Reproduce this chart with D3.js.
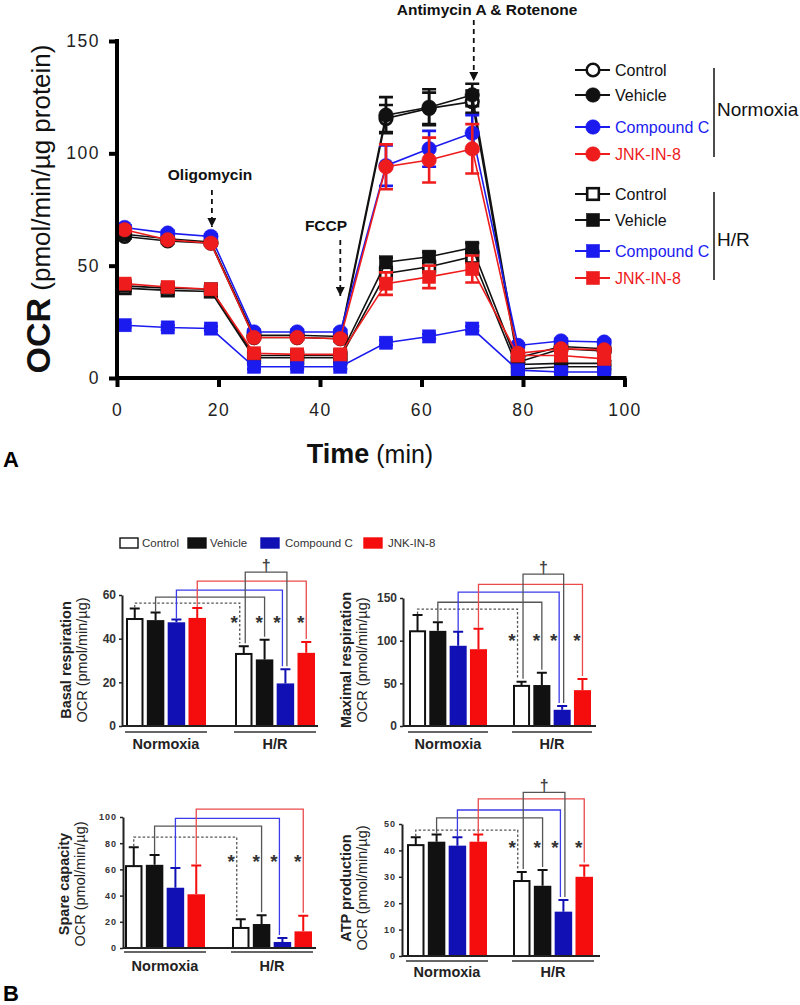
<!DOCTYPE html>
<html><head><meta charset="utf-8">
<script src="https://cdn.jsdelivr.net/npm/d3@7"></script>
<style>body{margin:0;background:#fff}svg{display:block;font-family:"Liberation Sans",Arial,sans-serif}</style>
</head><body><svg id="c" width="800" height="1005"></svg>
<script>
// ---------- Panel A data ----------
const times = [1.5,10,18.5,27,35.5,44,53,61.5,70,79,87.5,96];
const norControl = [63,61,60,18,18,17.5,115.5,120,123,7,13,12];
const norVehicle = [64,62,60.5,19,19,18.5,117,120.5,126,9,14,13];
const norCompC   = [67,64.5,63,20.5,20.5,20.5,94.5,102,109,14.5,16.5,16];
const norJNK     = [66,61.5,60,18,18,17.5,94,97,102,11,13,12.5];
const hrControl  = [40,39,38.5,9,9,9,46.5,49.5,54,4,5,5];
const hrVehicle  = [41,40,39.5,10,10,10,51.5,54,58,6,6.5,6.5];
const hrCompC    = [23.5,22.5,22,5,5,5,15.7,18.5,22,3.5,2.7,2.7];
const hrJNK      = [42,40.5,39.5,11,10.5,10.5,42,45,48.5,10,10,8.5];
const norControlErr = [1,1,1,1,1,1,6,7,5,1,1,1];
const norVehicleErr = [1,1,1,1,1,1,8,8,5,1,1,1];
const norCompCErr   = [1,1,1,1,1,1,9,8,8,1,1,1];
const norJNKErr     = [1,1,1,1,1,1,10,10,11,1,1,1];
const hrControlErr  = [1,1,1,1,1,1,2,2,2,1,1,1];
const hrVehicleErr  = [1,1,1,1,1,1,2,2,2,1,1,1];
const hrCompCErr    = [1,1,1,1,1,1,1,1,1,1,1,1];
const hrJNKErr      = [1,1,1,1,1,1,5,5,6,1,1,1];
const xTicksA = [0,20,40,60,80,100];
const yTicksA = [0,50,100,150];
const injTimes = [18.7,44,70.3];
const injLabels = ["Oligomycin","FCCP","Antimycin A & Rotenone"];

// ---------- Panel B data ----------
const groups = ["Normoxia","H/R"];
const treatments = ["Control","Vehicle","Compound C","JNK-IN-8"];
const basalMean = [49,48.5,47.5,49.5, 33,30.5,19.5,33.5];
const basalErr  = [4.8,3.5,1.3,4.5, 3.5,9,6.5,5];
const maxMean   = [111,111.5,94,90, 47,48,19,42];
const maxErr    = [19,10,16.4,24, 4.9,14.4,4.4,13];
const spareMean = [62.5,63.5,46,41, 15.3,18.3,4.6,12.7];
const spareErr  = [14.5,7.5,15,22, 6.7,6.7,3,12];
const atpMean   = [42,43.3,41.8,43.3, 28.4,26.6,16.8,30];
const atpErr    = [3,2.7,3.2,2.7, 3.4,6,4.4,4.3];
const basalTicks = [0,20,40,60];
const maxTicks = [0,50,100,150];
const spareTicks = [0,20,40,60,80,100];
const atpTicks = [0,10,20,30,40,50];

const svg = d3.select("#c");
const BLK="#111", BLU="#1b1bf0", RED="#ee1c1c";

// ================= Panel A =================
const xA = d3.scaleLinear().domain([0,100]).range([117,624.5]);
const yA = d3.scaleLinear().domain([0,150]).range([378,41]);

const seriesA = [
 {label:"Control", vals:norControl, err:norControlErr, color:BLK, shape:"circle", open:true},
 {label:"Vehicle", vals:norVehicle, err:norVehicleErr, color:BLK, shape:"circle", open:false},
 {label:"Compound C", vals:norCompC, err:norCompCErr, color:BLU, shape:"circle", open:false},
 {label:"JNK-IN-8", vals:norJNK, err:norJNKErr, color:RED, shape:"circle", open:false},
 {label:"Control", vals:hrControl, err:hrControlErr, color:BLK, shape:"square", open:true},
 {label:"Vehicle", vals:hrVehicle, err:hrVehicleErr, color:BLK, shape:"square", open:false},
 {label:"Compound C", vals:hrCompC, err:hrCompCErr, color:BLU, shape:"square", open:false},
 {label:"JNK-IN-8", vals:hrJNK, err:hrJNKErr, color:RED, shape:"square", open:false}
];

function marker(g,x,y,s){
  if(s.shape==="circle"){
    g.append("circle").attr("cx",x).attr("cy",y).attr("r",s.open?6.3:7.3)
     .attr("fill",s.open?"#fff":s.color).attr("stroke",s.color).attr("stroke-width",s.open?2.6:0.5);
  } else {
    const h = s.open?5.8:6.6;
    g.append("rect").attr("x",x-h).attr("y",y-h).attr("width",2*h).attr("height",2*h)
     .attr("fill",s.open?"#fff":s.color).attr("stroke",s.color).attr("stroke-width",s.open?2.6:0.5);
  }
}

const lineA = d3.line().x((d,i)=>xA(times[i])).y(d=>yA(d));
const gA = svg.append("g");
seriesA.forEach(s=>{
  const g = gA.append("g");
  g.append("path").attr("d",lineA(s.vals)).attr("fill","none").attr("stroke",s.color).attr("stroke-width",1.6);
  s.vals.forEach((v,i)=>{
    const e=s.err[i], x=xA(times[i]);
    g.append("path").attr("d",`M${x},${yA(v-e)}V${yA(v+e)}M${x-7},${yA(v+e)}H${x+7}M${x-7},${yA(v-e)}H${x+7}`)
     .attr("stroke",s.color).attr("stroke-width",2.6).attr("fill","none");
  });
  s.vals.forEach((v,i)=>marker(g,xA(times[i]),yA(v),s));
});

// axes A
const axA = gA.append("g").attr("transform","translate(0,378)")
  .call(d3.axisBottom(xA).tickValues(xTicksA).tickSize(9).tickSizeOuter(0).tickPadding(17));
const ayA = gA.append("g").attr("transform","translate(117,0)")
  .call(d3.axisLeft(yA).tickValues(yTicksA).tickSize(8).tickSizeOuter(0).tickPadding(9));
[axA,ayA].forEach(a=>{
  a.select(".domain").attr("stroke","#000").attr("stroke-width",4);
  a.selectAll(".tick line").attr("stroke","#000").attr("stroke-width",4);
  a.selectAll("text").attr("font-size",17.5).attr("fill","#222").attr("letter-spacing",1.5)
   .attr("font-family","'Liberation Sans',Arial,sans-serif");
});
axA.select(".domain").attr("d","M115,0H626.5");
ayA.select(".domain").attr("d","M0,380V39");

// axis titles
const yt = gA.append("text").attr("transform","translate(50,209) rotate(-90)").attr("text-anchor","middle").attr("fill","#111");
yt.append("tspan").attr("font-weight","bold").attr("font-size",34).text("OCR");
yt.append("tspan").attr("font-size",26).text(" (pmol/min/\u00b5g protein)");
const xt = gA.append("text").attr("x",370).attr("y",463).attr("text-anchor","middle").attr("fill","#111");
xt.append("tspan").attr("font-weight","bold").attr("font-size",27).text("Time");
xt.append("tspan").attr("font-size",25).text(" (min)");
gA.append("text").attr("x",3).attr("y",467).attr("font-weight","bold").attr("font-size",22).text("A");

// injection arrows
svg.append("defs").append("marker").attr("id","ah").attr("viewBox","0 0 10 10").attr("refX",10).attr("refY",5)
  .attr("markerWidth",5).attr("markerHeight",5).attr("orient","auto-start-reverse").attr("markerUnits","strokeWidth")
  .append("path").attr("d","M0,0L10,5L0,10Z").attr("fill","#111");
const injPos = [{y1:190,y2:227,lx:210,ly:180},{y1:240,y2:296,lx:326,ly:231},{y1:20,y2:81,lx:487,ly:15}];
injTimes.forEach((t,i)=>{
  const p=injPos[i], x=xA(t);
  gA.append("line").attr("x1",x).attr("x2",x).attr("y1",p.y1).attr("y2",p.y2).attr("stroke","#111")
    .attr("stroke-width",1.8).attr("stroke-dasharray","5,4").attr("marker-end","url(#ah)");
  gA.append("text").attr("x",p.lx).attr("y",p.ly).attr("text-anchor","middle").attr("font-weight","bold")
    .attr("font-size",15.5).attr("fill","#111").text(injLabels[i]);
});

// legend A
const legRows = [70,95,127,154,194,220,251,278];
seriesA.forEach((s,i)=>{
  const y=legRows[i];
  gA.append("line").attr("x1",575).attr("x2",610).attr("y1",y).attr("y2",y).attr("stroke",s.color).attr("stroke-width",1.8);
  marker(gA,593,y,s);
  gA.append("text").attr("x",615).attr("y",y+6).attr("font-size",16).attr("fill",s.color===BLK?"#111":s.color).text(s.label);
});
[[68,157,"Normoxia",116],[192,280,"H/R",246]].forEach(b=>{
  gA.append("line").attr("x1",714).attr("x2",714).attr("y1",b[0]).attr("y2",b[1]).attr("stroke","#111").attr("stroke-width",1.5);
  gA.append("text").attr("x",717).attr("y",b[3]).attr("font-size",19).attr("fill","#111").text(b[2]);
});

// ================= Panel B =================
const barFill = ["#fff","#111","#1010b4","#f50d0d"];
const barStroke = ["#111","#111","#1010b4","#f50d0d"];
const brCol = ["#555","#555","#3b3be8","#ea4a4a"];

// legend B
const legB = [{x:120,tx:142},{x:188,tx:210},{x:261,tx:285},{x:364,tx:388}];
treatments.forEach((t,i)=>{
  svg.append("rect").attr("x",legB[i].x).attr("y",538).attr("width",18).attr("height",10)
    .attr("fill",barFill[i]).attr("stroke",barStroke[i]).attr("stroke-width",1.4);
  svg.append("text").attr("x",legB[i].tx).attr("y",547).attr("font-size",11.5).attr("fill","#333").text(t);
});

function barChart(c){
  const g = svg.append("g");
  const y = d3.scaleLinear().domain([0,c.max]).range([c.y0,c.yTop]);
  const xg = d3.scaleBand().domain(groups).range([c.gStart,c.gStart+2*c.gw+c.gap]).paddingInner(c.gap/(c.gw+c.gap));
  const xb = d3.scaleBand().domain(treatments).range([0,c.gw]).paddingInner(0.16);
  const bx = i=>xg(groups[Math.floor(i/4)])+xb(treatments[i%4]);
  const bc = i=>bx(i)+xb.bandwidth()/2;
  const cap = i=>y(c.mean[i]+c.err[i]);
  // error bars
  c.mean.forEach((m,i)=>{
    const x=bc(i);
    g.append("path").attr("d",`M${x},${y(m)}V${cap(i)}M${x-5},${cap(i)}H${x+5}`)
     .attr("stroke",barStroke[i%4]).attr("stroke-width",2).attr("fill","none");
  });
  // bars
  g.selectAll("rect.bar").data(c.mean).join("rect").attr("class","bar")
   .attr("x",(d,i)=>bx(i)+(i%4===0?1:0)).attr("y",d=>y(d))
   .attr("width",(d,i)=>xb.bandwidth()-(i%4===0?2:0)).attr("height",d=>c.y0-y(d))
   .attr("fill",(d,i)=>barFill[i%4]).attr("stroke",(d,i)=>i%4===0?"#111":"none").attr("stroke-width",2);
  // axes
  const ay = g.append("g").attr("transform",`translate(${c.axis},0)`)
    .call(d3.axisLeft(y).tickValues(c.ticks).tickSize(3).tickSizeOuter(0).tickPadding(3));
  ay.select(".domain").attr("stroke","#222").attr("stroke-width",2);
  ay.selectAll(".tick line").attr("stroke","#222").attr("stroke-width",1.5);
  ay.selectAll("text").attr("font-size",c.tf).attr("font-weight","bold").attr("fill","#333")
    .attr("letter-spacing",c.tf<11?1:0).attr("font-family","'Liberation Sans',Arial,sans-serif");
  g.append("line").attr("x1",c.axis).attr("x2",c.xEnd).attr("y1",c.y0).attr("y2",c.y0).attr("stroke","#222").attr("stroke-width",2);
  // group underlines and labels
  groups.forEach(gr=>{
    const x0=xg(gr)-1, x1=xg(gr)+c.gw+1;
    g.append("line").attr("x1",x0).attr("x2",x1).attr("y1",c.under).attr("y2",c.under).attr("stroke","#333").attr("stroke-width",1.5);
    g.append("text").attr("x",(x0+x1)/2).attr("y",c.lab).attr("text-anchor","middle").attr("font-weight","bold")
      .attr("font-size",14.5).attr("fill","#222").text(gr);
  });
  // y label
  const yl = g.append("g").attr("transform",`translate(0,${c.ly})`);
  yl.append("text").attr("transform",`translate(${c.lx1},0) rotate(-90)`).attr("text-anchor","middle")
    .attr("font-weight","bold").attr("font-size",14.5).attr("fill","#222").text(c.title);
  yl.append("text").attr("transform",`translate(${c.lx2},0) rotate(-90)`).attr("text-anchor","middle")
    .attr("font-size",14.5).attr("fill","#222").text("OCR (pmol/min/\u00b5g)");
  // comparison brackets
  const comps=[{a:0,b:4,off:-4,dash:"2.5,2"},{a:1,b:5,off:0},{a:2,b:6,off:-3},{a:3,b:7,off:0}];
  comps.forEach((k,j)=>{
    const x1=bc(k.a), x2=bc(k.b)+k.off, ly=y(c.lv[j]);
    g.append("path").attr("d",`M${x1},${cap(k.a)-1}V${ly}H${x2}V${cap(k.b)-3}`).attr("fill","none")
      .attr("stroke",brCol[j]).attr("stroke-width",1.3).attr("stroke-dasharray",k.dash||null);
    g.append("text").attr("x",x2-5.5).attr("y",y(c.star)+10).attr("text-anchor","middle")
      .attr("font-size",19).attr("font-weight","bold").attr("fill","#333").text("*");
  });
  if(c.dag){
    const x1=bc(4)+1.5, x2=bc(6)+1.5, ly=y(c.dag);
    g.append("path").attr("d",`M${x1},${cap(4)-3}V${ly}H${x2}V${cap(6)-3}`).attr("fill","none")
      .attr("stroke","#555").attr("stroke-width",1.3);
    g.append("text").attr("x",(x1+x2)/2).attr("y",ly-1).attr("text-anchor","middle")
      .attr("font-size",16).attr("font-weight","bold").attr("fill","#444").text("\u2020");
  }
}

barChart({mean:basalMean,err:basalErr,ticks:basalTicks,max:60,title:"Basal respiration",
  axis:122,gStart:126,gw:80,gap:29,y0:726,yTop:595,xEnd:318,under:732,lab:749,lx1:71,lx2:87,ly:660,tf:12,
  lv:[56.3,59,62.2,66.4],star:49,dag:70.5});
barChart({mean:maxMean,err:maxErr,ticks:maxTicks,max:150,title:"Maximal respiration",
  axis:403,gStart:409,gw:78,gap:26,y0:726,yTop:598,xEnd:596,under:732,lab:749,lx1:351,lx2:367,ly:660,tf:12,
  lv:[137,145,157,166],star:104,dag:178});
barChart({mean:spareMean,err:spareErr,ticks:spareTicks,max:100,title:"Spare capacity",
  axis:123,gStart:125,gw:80,gap:27,y0:948,yTop:817,xEnd:316,under:952,lab:971,lx1:69,lx2:85,ly:884,tf:9,
  lv:[84.7,93,99,106],star:68.7});
barChart({mean:atpMean,err:atpErr,ticks:atpTicks,max:50,title:"ATP production",
  axis:402,gStart:407,gw:80,gap:26,y0:956,yTop:824,xEnd:600,under:961,lab:977,lx1:351,lx2:367,ly:888,tf:9,
  lv:[47.7,52.3,55.3,59.5],star:42.4,dag:62});

svg.append("text").attr("x",3).attr("y",1001).attr("font-weight","bold").attr("font-size",22).text("B");
</script></body></html>
